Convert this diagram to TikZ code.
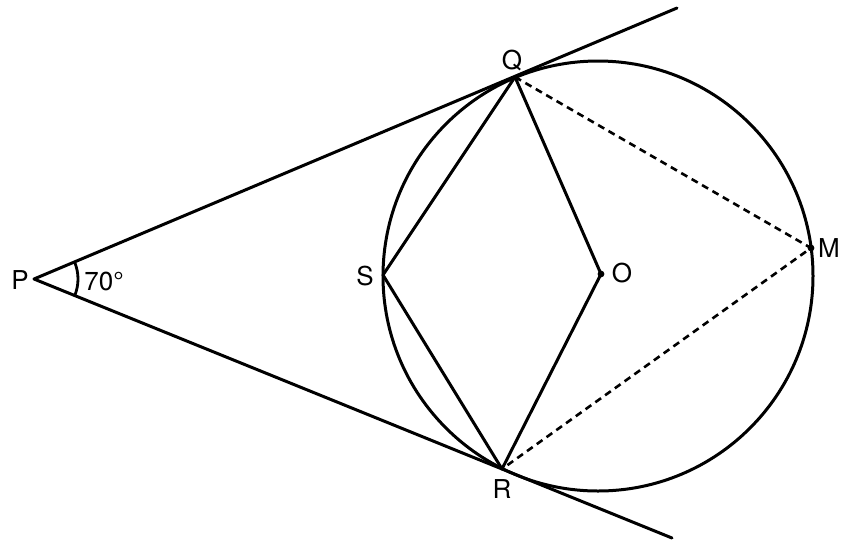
\documentclass[tikz,border=0pt]{standalone}
\usepackage{fontspec}
\setmainfont{TeX Gyre Heros}
\usetikzlibrary{calc}
\begin{document}
\begin{tikzpicture}[x=1pt,y=-1pt,
  geo/.style={line width=3pt,line cap=round,line join=round},
  dsh/.style={line width=2.6pt,dash pattern=on 7pt off 5pt},
  lbl/.style={font=\fontsize{26}{28}\selectfont,inner sep=0pt}]
\useasboundingbox (0,0) rectangle (848,539);
\coordinate (C) at (598,276);
\coordinate (P) at (34,279);
\coordinate (Q) at (515,77);
\coordinate (R) at (502,469);
\coordinate (S) at (383,275);
\coordinate (O) at (601,274);
\coordinate (M) at (811,248);
\coordinate (T1) at (677,8);
\coordinate (T2) at (672,538);
\draw[geo] (C) circle (215);
\draw[geo] (P) -- (T1);
\draw[geo] (P) -- (T2);
\draw[geo] (Q) -- (S) -- (R);
\draw[geo] (Q) -- (O) -- (R);
\draw[dsh] (Q) -- (M) -- (R);
\fill (O) circle (3.4);
\fill (M) circle (3.4);
\draw[line width=2.8pt] ($(P)+(-22.8:44)$) arc[start angle=-22.8,end angle=22.8,radius=44];
\node[lbl] (lQ) at (512,60) {Q};
\node[lbl] (lR) at (502,489) {R};
\node[lbl] (lP) at (20,280) {P};
\node[lbl] (lA) at (104,281) {70°};
\node[lbl] (lS) at (365,276) {S};
\node[lbl] (lO) at (622,273) {O};
\node[lbl] (lM) at (829,248) {M};
\end{tikzpicture}
\end{document}
